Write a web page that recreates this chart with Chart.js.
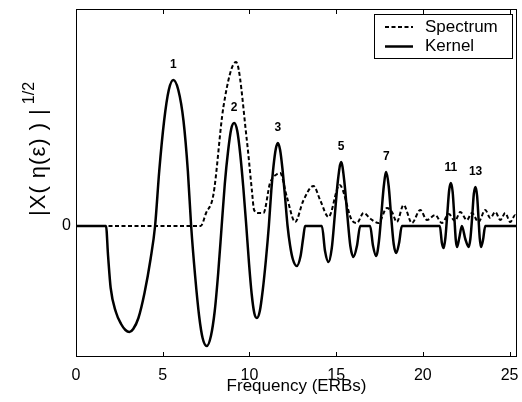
<!DOCTYPE html>
<html>
<head>
<meta charset="utf-8">
<script src="https://cdn.jsdelivr.net/npm/chart.js@4"></script>
<style>body{margin:0;background:#fff}</style>
</head>
<body>
<canvas id="myChart" width="522" height="402"></canvas>
<script>
// kernel (solid)
const kernelX = [0, 1.73, 1.85, 2.0, 2.3, 2.6, 2.85, 3.08, 3.3, 3.6, 3.95, 4.3, 4.56,
    4.8, 5.08, 5.35, 5.61, 5.9, 6.2, 6.45, 6.64,
    6.87, 7.1, 7.3, 7.54, 7.78, 8.0, 8.2, 8.4,
    8.58, 8.77, 8.95, 9.12, 9.3, 9.47, 9.65, 9.82,
    9.98, 10.13, 10.28, 10.43, 10.6, 10.77, 10.95, 11.12,
    11.26, 11.39, 11.52, 11.64, 11.77, 11.9, 12.05, 12.2,
    12.35, 12.5, 12.73, 12.95, 13.1, 13.21,
    14.18, 14.36, 14.56, 14.75, 14.92, 15.1, 15.29, 15.47, 15.65, 15.82, 16.0, 16.2, 16.39,
    16.96, 17.13, 17.31, 17.47, 17.6, 17.75, 17.89, 18.03, 18.18, 18.32, 18.47, 18.63, 18.79,
    20.98, 21.1, 21.2, 21.3, 21.41, 21.52, 21.62, 21.72, 21.82, 21.9, 21.97, 22.1, 22.25,
    22.45, 22.64, 22.74, 22.84, 22.94, 23.04, 23.13, 23.21, 23.28, 23.35, 23.47, 23.6, 25.43];
const kernelY = [0, 0, -0.3, -0.62, -0.86, -0.98, -1.04, -1.06, -1.03, -0.92, -0.67, -0.33, 0,
    0.55, 1.05, 1.36, 1.46, 1.36, 1.05, 0.55, 0,
    -0.5, -0.9, -1.12, -1.2, -1.1, -0.85, -0.47, 0,
    0.42, 0.75, 0.97, 1.03, 0.95, 0.72, 0.38, 0,
    -0.38, -0.68, -0.87, -0.92, -0.85, -0.64, -0.34, 0,
    0.35, 0.6, 0.77, 0.83, 0.76, 0.58, 0.3, 0,
    -0.2, -0.33, -0.40, -0.3, -0.12, 0,
    0, -0.25, -0.36, -0.22, 0.1, 0.45, 0.64, 0.45, 0.1, -0.2, -0.31, -0.2, 0,
    0, -0.2, -0.30, -0.15, 0.1, 0.4, 0.54, 0.4, 0.08, -0.18, -0.27, -0.17, 0,
    0, -0.17, -0.22, -0.12, 0.12, 0.36, 0.43, 0.34, 0.08, -0.14, -0.21, -0.12, 0,
    -0.13, -0.21, -0.13, 0.08, 0.32, 0.39, 0.3, 0.08, -0.12, -0.21, -0.14, 0, 0];

// spectrum (dashed)
const spectrumX = [0, 7.19, 7.5, 7.92, 8.5, 9.23, 9.85, 10.14, 10.27, 10.5, 10.81, 11.19, 11.6, 11.77, 12.16, 12.64, 13.1, 13.69, 14.1, 14.56, 15.2, 15.9, 16.2, 16.58, 17.0, 17.44, 17.93, 18.22, 18.5, 18.89, 19.37, 19.85, 20.24, 20.71, 21.1, 21.5, 21.85, 22.16, 22.54, 22.83, 23.21, 23.6, 23.89, 24.18, 24.47, 24.75, 25.04, 25.33, 25.43];
const spectrumY = [0, 0, 0.13, 0.31, 1.19, 1.64, 0.86, 0.36, 0.16, 0.13, 0.13, 0.43, 0.52, 0.53, 0.29, 0.04, 0.25, 0.40, 0.25, 0.09, 0.41, 0.06, 0.03, 0.13, 0.07, 0.03, 0.18, 0.14, 0.04, 0.21, 0.03, 0.16, 0.06, 0.11, 0.03, 0.12, 0.05, 0.14, 0.06, 0.13, 0.04, 0.16, 0.08, 0.14, 0.06, 0.13, 0.04, 0.11, 0.09];

// peak labels
const peakLabels = ['1', '2', '3', '5', '7', '11', '13'];
const peakX = [5.61, 9.12, 11.64, 15.29, 17.89, 21.62, 23.04];
const peakY = [1.46, 1.03, 0.83, 0.64, 0.54, 0.43, 0.39];

const xTicks = [0, 5, 10, 15, 20, 25];
const yTicks = [0];

const toPts = (xs, ys) => xs.map((x, i) => ({x: x, y: ys[i]}));
const FONT = 'Arial, "Liberation Sans", sans-serif';
const noPad = s => { s.paddingLeft = 0; s.paddingRight = 0; s.paddingTop = 0; s.paddingBottom = 0; };

const extras = {
    id: 'extras',
    afterDraw(chart) {
        const ctx = chart.ctx;
        const a = chart.chartArea;
        const sx = chart.scales.x, sy = chart.scales.y;
        ctx.save();
        // frame
        ctx.strokeStyle = '#000';
        ctx.lineWidth = 1;
        ctx.strokeRect(a.left + 0.5, a.top + 0.5, a.right - a.left - 1, a.bottom - a.top - 1);
        // inward ticks
        ctx.beginPath();
        xTicks.forEach(v => {
            const px = Math.round(sx.getPixelForValue(v)) + 0.5;
            ctx.moveTo(px, a.bottom); ctx.lineTo(px, a.bottom - 5);
            ctx.moveTo(px, a.top); ctx.lineTo(px, a.top + 5);
        });
        yTicks.forEach(v => {
            const py = Math.round(sy.getPixelForValue(v)) + 0.5;
            ctx.moveTo(a.left, py); ctx.lineTo(a.left + 5, py);
            ctx.moveTo(a.right, py); ctx.lineTo(a.right - 5, py);
        });
        ctx.stroke();

        // peak numbers
        ctx.fillStyle = '#000';
        ctx.font = 'bold 12px ' + FONT;
        ctx.textAlign = 'center';
        ctx.textBaseline = 'middle';
        peakLabels.forEach((t, i) => {
            ctx.fillText(t, sx.getPixelForValue(peakX[i]), sy.getPixelForValue(peakY[i]) - 15);
        });

        // legend box
        const bx = a.right - 143, by = a.top + 5, bw = 138, bh = 44;
        ctx.fillStyle = '#fff';
        ctx.fillRect(bx, by, bw, bh);
        ctx.strokeRect(bx + 0.5, by + 0.5, bw, bh);
        chart.data.datasets.forEach((ds, i) => {
            const ly = by + 13 + i * 19.5;
            ctx.beginPath();
            ctx.setLineDash(ds.borderDash || []);
            ctx.lineWidth = ds.borderWidth;
            ctx.moveTo(bx + 11, ly); ctx.lineTo(bx + 39, ly);
            ctx.stroke();
            ctx.setLineDash([]);
            ctx.fillStyle = '#000';
            ctx.font = '17px ' + FONT;
            ctx.textAlign = 'left';
            ctx.fillText(ds.label, bx + 51, ly);
        });

        // y axis title with superscript
        ctx.translate(45, 216);
        ctx.rotate(-Math.PI / 2);
        ctx.textAlign = 'left';
        ctx.textBaseline = 'alphabetic';
        ctx.font = '22px ' + FONT;
        ctx.letterSpacing = '1px';
        const main = '|X( \u03b7(\u03b5) ) |';
        ctx.fillText(main, 0, 0);
        const w = ctx.measureText(main).width;
        ctx.letterSpacing = '0px';
        ctx.font = '16px ' + FONT;
        ctx.fillText('1/2', w + 4, -11);
        ctx.restore();
    }
};

new Chart(document.getElementById('myChart'), {
    type: 'line',
    data: {
        datasets: [{
            label: 'Spectrum',
            data: toPts(spectrumX, spectrumY),
            borderColor: '#000',
            borderWidth: 2,
            borderDash: [4, 2.5],
            pointRadius: 0,
            cubicInterpolationMode: 'monotone',
            fill: false
        }, {
            label: 'Kernel',
            data: toPts(kernelX, kernelY),
            borderColor: '#000',
            borderWidth: 2.5,
            pointRadius: 0,
            cubicInterpolationMode: 'monotone',
            fill: false
        }]
    },
    options: {
        responsive: false,
        animation: false,
        layout: {padding: {top: 9, right: 5, left: 0, bottom: 0}},
        plugins: {legend: {display: false}, tooltip: {enabled: false}},
        scales: {
            x: {
                type: 'linear',
                min: 0,
                max: 25.43,
                grid: {display: false, drawTicks: false},
                border: {display: false},
                ticks: {
                    stepSize: 5,
                    includeBounds: false,
                    padding: 9,
                    color: '#000',
                    font: {size: 16, family: FONT}
                },
                title: {
                    display: true,
                    text: 'Frequency (ERBs)',
                    color: '#000',
                    font: {size: 17, family: FONT},
                    padding: {top: 0, bottom: 5}
                },
                afterFit: s => { s.height = 45; noPad(s); }
            },
            y: {
                min: -1.31,
                max: 2.17,
                grid: {display: false, drawTicks: false},
                border: {display: false},
                afterBuildTicks: s => { s.ticks = yTicks.map(v => ({value: v})); },
                ticks: {
                    padding: 5,
                    color: '#000',
                    font: {size: 16, family: FONT}
                },
                afterFit: s => { s.width = 76; noPad(s); }
            }
        }
    },
    plugins: [extras]
});
</script>
</body>
</html>
